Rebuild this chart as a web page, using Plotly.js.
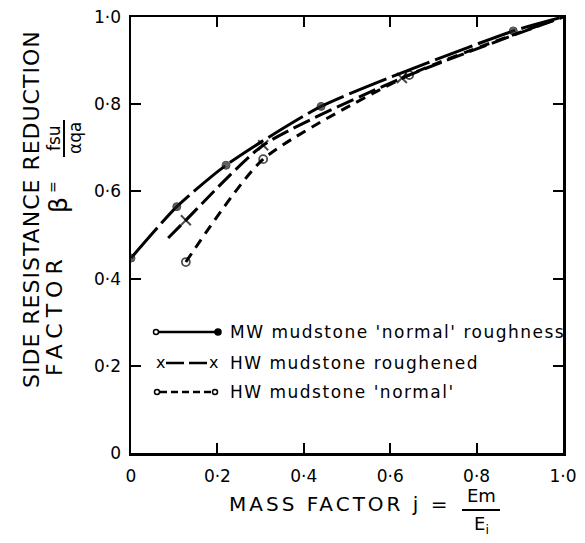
<!DOCTYPE html>
<html>
<head>
<meta charset="utf-8">
<script src="https://cdn.plot.ly/plotly-3.0.1.min.js"></script>
<style>
  html, body { margin: 0; padding: 0; background: #fff; }
  #chart { width: 585px; height: 543px; }
</style>
</head>
<body>
<div id="chart"></div>
<script>
// ---- data ----
const mwX  = [0, 0.106, 0.22, 0.44, 0.885, 1.0];
const mwY  = [0.447, 0.565, 0.66, 0.795, 0.968, 1.0];
const mwMarked = [1, 1, 1, 1, 1, 0];

const hwrX = [0.086, 0.127, 0.306, 0.627, 1.0];
const hwrY = [0.493, 0.534, 0.706, 0.860, 1.0];
const hwrMarked = [0, 1, 1, 1, 0];

const hwnX = [0.127, 0.306, 0.644, 1.0];
const hwnY = [0.438, 0.674, 0.867, 1.0];
const hwnMarked = [1, 1, 1, 0];

const tickVals = [0, 0.2, 0.4, 0.6, 0.8, 1.0];
const xTickText = ['0', '0·2', '0·4', '0·6', '0·8', '1·0'];
const yTickText = ['0', '0·2', '0·4', '0·6', '0·8', '1·0'];

const seriesNames = ["MW mudstone 'normal' roughness", "HW mudstone roughened", "HW mudstone 'normal'"];

// ---- layout helpers (pixel -> paper) ----
const W = 585, H = 543, ML = 131, MR = 22, MT = 17, MB = 90;
const PW = W - ML - MR, PH = H - MT - MB;
const px = v => (v - ML) / PW;
const py = v => (H - MB - v) / PH;
const FONT = 'DejaVu Sans, Liberation Sans, sans-serif';

const traces = [
  {
    x: mwX, y: mwY, mode: 'lines+markers', name: seriesNames[0], showlegend: false,
    line: { color: '#000', width: 3, dash: '40px,6px', shape: 'spline', smoothing: 0.6 },
    marker: { symbol: 'circle', color: '#222', size: mwMarked.map(m => m ? 8 : 0), line: { color: '#000', width: 1 } }
  },
  {
    x: hwrX, y: hwrY, mode: 'lines+markers', name: seriesNames[1], showlegend: false,
    line: { color: '#000', width: 3, dash: '18px,6px', shape: 'spline', smoothing: 0.6 },
    marker: { symbol: 'x-thin-open', color: '#000', size: hwrMarked.map(m => m ? 10 : 0), line: { color: '#000', width: 2 } }
  },
  {
    x: hwnX, y: hwnY, mode: 'lines+markers', name: seriesNames[2], showlegend: false,
    line: { color: '#000', width: 3, dash: '10px,7px', shape: 'spline', smoothing: 0.6 },
    marker: { symbol: 'circle-open', color: '#000', size: hwnMarked.map(m => m ? 8 : 0), line: { color: '#000', width: 1.8 } }
  }
];

const ls = (s, t) => `<span style="letter-spacing:${s}px">${t}</span>`;

const annotations = [
  // y-axis title
  { text: ls(1, 'SIDE RESISTANCE REDUCTION'), x: px(31), y: py(209), textangle: -90, font: { size: 22 } },
  { text: ls(6, 'FACTOR'), x: px(54), y: py(315), textangle: -90, font: { size: 22 } },
  { text: 'β', x: px(58), y: py(205), textangle: -90, font: { size: 25 } },
  { text: '=', x: px(53), y: py(187), textangle: -90, font: { size: 14 } },
  { text: 'fsu', x: px(54), y: py(138), textangle: -90, font: { size: 17 } },
  { text: 'αqa', x: px(75), y: py(138), textangle: -90, font: { size: 17 } },
  // x-axis title
  { text: ls(3, 'MASS FACTOR j ='), x: px(453), y: py(504), xanchor: 'right', font: { size: 20 } },
  { text: 'Em', x: px(481), y: py(495), font: { size: 18 } },
  { text: 'E<sub>i</sub>', x: px(481), y: py(525), font: { size: 18 } },
  // legend
  { text: ls(1.5, seriesNames[0]), x: px(228), y: py(332), xanchor: 'left', font: { size: 17 } },
  { text: ls(1.5, seriesNames[1]), x: px(228), y: py(363), xanchor: 'left', font: { size: 17 } },
  { text: ls(1.5, seriesNames[2]), x: px(228), y: py(392), xanchor: 'left', font: { size: 17 } },
  { text: 'x', x: px(160), y: py(362), font: { size: 16 } },
  { text: 'x', x: px(213), y: py(362), font: { size: 16 } }
].map(a => Object.assign({ xref: 'paper', yref: 'paper', showarrow: false, xanchor: 'center', yanchor: 'middle' }, a, { font: Object.assign({ family: FONT, color: '#000' }, a.font) }));

const circ = (cx, cy, r, fill) => ({
  type: 'circle', xref: 'paper', yref: 'paper',
  x0: px(cx - r), x1: px(cx + r), y0: py(cy + r), y1: py(cy - r),
  line: { color: '#000', width: 1.5 }, fillcolor: fill
});
const seg = (x0, y0, x1, y1, dash, w) => ({
  type: 'line', xref: 'paper', yref: 'paper',
  x0: px(x0), x1: px(x1), y0: py(y0), y1: py(y1),
  line: { color: '#000', width: w || 2.5, dash: dash || 'solid' }
});

const shapes = [
  // fraction bars
  seg(462, 510, 500, 510, 'solid', 2),
  seg(64, 120, 64, 157, 'solid', 2),
  // legend samples
  seg(158, 332, 216, 332, 'solid', 2.5),
  circ(156, 332, 2.5, '#fff'),
  circ(218, 332, 3, '#000'),
  seg(166, 363, 208, 363, '18px,5px', 2.5),
  seg(160, 392, 212, 392, '7px,4px', 2.5),
  circ(157, 392, 2.5, '#fff'),
  circ(215, 392, 2.5, '#fff')
];

const axisCommon = {
  range: [0, 1], tickvals: tickVals, ticks: 'inside', ticklen: 10, tickwidth: 2, tickcolor: '#000',
  showline: true, linewidth: 2.5, linecolor: '#000', mirror: 'ticks',
  showgrid: false, zeroline: false, fixedrange: true,
  tickfont: { family: FONT, size: 17, color: '#000' }
};

const layout = {
  width: W, height: H,
  margin: { l: ML, r: MR, t: MT, b: MB, pad: 0 },
  paper_bgcolor: '#fff', plot_bgcolor: '#fff',
  showlegend: false,
  xaxis: Object.assign({}, axisCommon, { ticktext: xTickText, ticklabelstandoff: 6 }),
  yaxis: Object.assign({}, axisCommon, { ticktext: yTickText, ticklabelstandoff: 4 }),
  annotations: annotations,
  shapes: shapes
};

Plotly.newPlot('chart', traces, layout, { displayModeBar: false, staticPlot: true });
</script>
</body>
</html>
